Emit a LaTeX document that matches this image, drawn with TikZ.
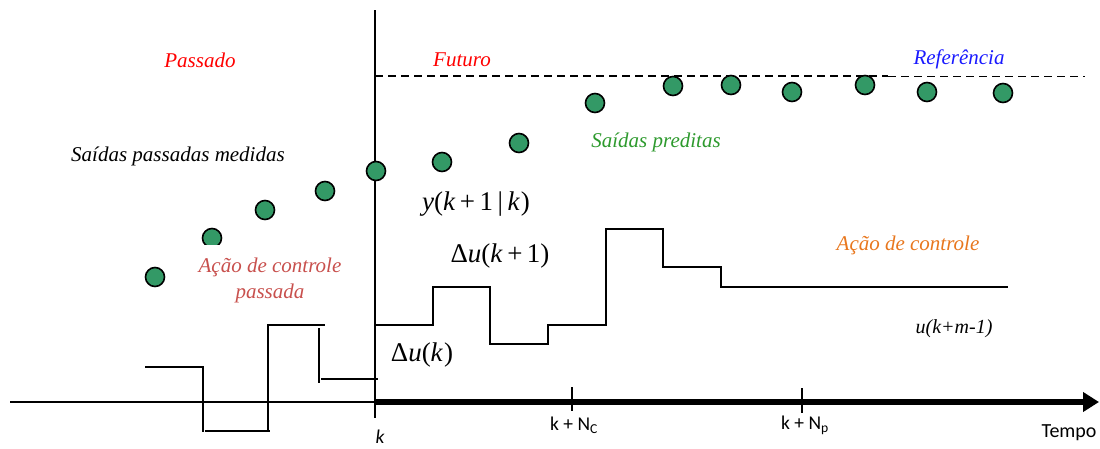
\documentclass[tikz,border=0pt]{standalone}
\usepackage{fontspec}
\setmainfont{Liberation Serif}
\newfontfamily\calfont{Carlito}
\usetikzlibrary{arrows.meta}
\definecolor{dotgreen}{HTML}{339966}
\definecolor{pastred}{HTML}{FF0000}
\definecolor{refblue}{HTML}{1A1AFF}
\definecolor{predgreen}{HTML}{2E9A2E}
\definecolor{ctrlorange}{HTML}{E8771E}
\definecolor{pastctrl}{HTML}{C8504D}
\begin{document}
\begin{tikzpicture}[x=1pt,y=-1pt,
  dot/.style={circle,draw=black,line width=1.6pt,fill=dotgreen,minimum size=19pt,inner sep=0pt},
  stepline/.style={line width=1.8pt},
  lbl/.style={font=\rmfamily\fontsize{21}{26}\selectfont\itshape,inner sep=0pt},
  mathlbl/.style={font=\rmfamily\fontsize{27}{32}\selectfont,inner sep=0pt},
  axlbl/.style={font=\calfont\fontsize{19.5}{22}\selectfont,inner sep=0pt}]
\useasboundingbox (0,0) rectangle (1100,448);

% axes
\coordinate (vtop) at (375,10);
\coordinate (vbot) at (375,418);
\coordinate (axL) at (10,402);
\coordinate (O) at (375,402);
\coordinate (axR) at (1099,402);
\draw[line width=1.8pt] (vtop) -- (vbot);
\draw[line width=1.8pt] (axL) -- (O);
\draw[line width=5.5pt,-{Triangle[length=16pt,width=19pt]}] (O) -- (axR);
\coordinate (tcA) at (572,387);
\coordinate (tcB) at (572,411);
\coordinate (tpA) at (802,388);
\coordinate (tpB) at (802,413);
\draw[line width=1.8pt] (tcA) -- (tcB);
\draw[line width=1.8pt] (tpA) -- (tpB);

% reference line
\coordinate (rA) at (375,76);
\coordinate (rB) at (888,76);
\coordinate (rC) at (1085,76);
\draw[line width=1.8pt,dash pattern=on 8pt off 5pt] (rA) -- (rB);
\draw[line width=0.9pt,dash pattern=on 8pt off 5pt] (rB) -- (rC);

% past control action
\draw[stepline] (145,367) -- (203,367) -- (203,432);
\draw[stepline] (205,431) -- (270,431);
\draw[stepline] (268,431) -- (268,325) -- (325,325);
\draw[stepline] (319,328) -- (319,383);
\draw[stepline] (321,379) -- (378,379);

% future control action
\draw[stepline] (375,325) -- (433,325) -- (433,287) -- (490,287) -- (490,344)
  -- (548,344) -- (548,325) -- (606,325) -- (606,229) -- (663,229) -- (663,267)
  -- (721,267) -- (721,287) -- (1008,287);

% outputs
\node[dot] (p1) at (155,277) {};
\begin{scope}
\clip (195,220) rectangle (230,244);
\node[dot] (p2) at (212,238) {};
\end{scope}
\node[dot] (p3) at (265,210) {};
\node[dot] (p4) at (325,191) {};
\node[dot] (p5) at (376,171) {};
\node[dot] (f1) at (442,162) {};
\node[dot] (f2) at (519,143) {};
\node[dot] (f3) at (595,103) {};
\node[dot] (f4) at (673,86) {};
\node[dot] (f5) at (731,85) {};
\node[dot] (f6) at (792,92) {};
\node[dot] (f7) at (865,85) {};
\node[dot] (f8) at (927,92) {};
\node[dot] (f9) at (1003,93) {};

% labels
\node[lbl,text=pastred] (passado) at (200,60) {Passado};
\node[lbl,text=pastred] (futuro) at (462,60) {Futuro};
\node[lbl,text=refblue] (ref) at (959,59) {Referência};
\node[lbl] (spm) at (178,156) {Saídas passadas medidas};
\node[lbl,text=predgreen] (sp) at (656,142) {Saídas preditas};
\node[lbl,text=ctrlorange] (ac) at (908,245) {Ação de controle};
\node[lbl,text=pastctrl,align=center] (acp) at (270,280) {Ação de controle\\passada};
\node[lbl,font=\rmfamily\fontsize{20}{24}\selectfont\itshape] (ukm) at (954,329) {u(k+m-1)};
\node[mathlbl] (ykk) at (476,204) {\textit{y}(\textit{k}\,+\,1\,|\,\textit{k}\kern1pt)};
\node[mathlbl] (du1) at (500,256) {Δ\textit{u}(\textit{k}\,+\,1)};
\node[mathlbl] (du0) at (422,355) {Δ\textit{u}(\textit{k}\kern1pt)};
\node[axlbl,font=\calfont\fontsize{19.5}{22}\selectfont\itshape] (klbl) at (380,437) {k};
\node[axlbl] (knc) at (574,425) {k + N\textsubscript{C}};
\node[axlbl] (knp) at (805,425) {k + N\textsubscript{p}};
\node[axlbl,font=\calfont\fontsize{20}{22}\selectfont] (tempo) at (1069,433) {Tempo};
\end{tikzpicture}
\end{document}
